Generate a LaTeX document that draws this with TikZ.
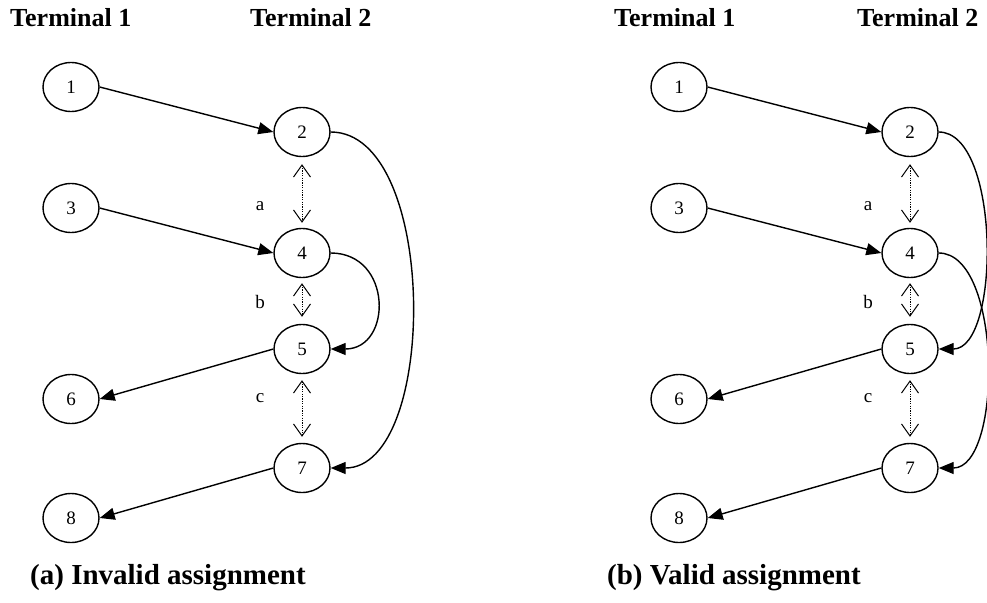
\documentclass[tikz,border=0pt]{standalone}
\usepackage{fontspec}
\setmainfont{Liberation Serif}
\usetikzlibrary{shapes.geometric,arrows.meta}
\begin{document}
\begin{tikzpicture}[x=1pt,y=-1pt,
  nd/.style={draw,ellipse,line width=1.4pt,minimum width=56pt,minimum height=49pt,inner sep=0pt,font=\fontsize{19}{21}\selectfont},
  arr/.style={line width=1.4pt,-{Triangle[length=15pt,width=12pt]}},
  dd/.style={line width=1pt,dash pattern=on 1.2pt off 1.2pt,{Straight Barb[length=12pt,width=17pt,line width=1pt]}-{Straight Barb[length=12pt,width=17pt,line width=1pt]}},
  lab/.style={font=\fontsize{19}{21}\selectfont},
  ttl/.style={anchor=west,inner sep=0pt,font=\fontsize{26}{28}\selectfont\bfseries},
  captext/.style={anchor=west,inner sep=0pt,font=\fontsize{29}{31}\selectfont\bfseries}]
\useasboundingbox (0,0) rectangle (987,602);
% left panel
\node[ttl] (t1a) at (10,18) {Terminal 1};
\node[ttl] (t2a) at (250,18) {Terminal 2};
\node[nd] (a1) at (71,87) {1};
\node[nd] (a3) at (71,208) {3};
\node[nd] (a6) at (71,399) {6};
\node[nd] (a8) at (71,518) {8};
\node[nd] (a2) at (302,132) {2};
\node[nd] (a4) at (302,253) {4};
\node[nd] (a5) at (302,349) {5};
\node[nd] (a7) at (302,468) {7};
\node[lab] (la) at (260,206) {a};
\node[lab] (lb) at (260,302) {b};
\node[lab] (lc) at (260,398) {c};
\draw[arr] (a1.east) -- (a2.west);
\draw[arr] (a3.east) -- (a4.west);
\draw[arr] (a5.west) -- (a6.east);
\draw[arr] (a7.west) -- (a8.east);
\draw[arr] (a2.east) .. controls +(108,0) and +(108,0) .. (a7.east);
\draw[arr] (a4.east) .. controls +(62,0) and +(62,0) .. (a5.east);
\draw[dd,shorten <=7pt,shorten >=5pt] (a2.south) -- (a4.north);
\draw[dd,shorten <=5pt,shorten >=7pt] (a4.south) -- (a5.north);
\draw[dd,shorten <=6pt,shorten >=6pt] (a5.south) -- (a7.north);
\node[captext] (ca) at (30,578) {(a) Invalid assignment};
% right panel
\node[ttl] (t1b) at (614,18) {Terminal 1};
\node[ttl] (t2b) at (857,18) {Terminal 2};
\node[nd] (b1) at (679,87) {1};
\node[nd] (b3) at (679,208) {3};
\node[nd] (b6) at (679,399) {6};
\node[nd] (b8) at (679,518) {8};
\node[nd] (b2) at (910,132) {2};
\node[nd] (b4) at (910,253) {4};
\node[nd] (b5) at (910,349) {5};
\node[nd] (b7) at (910,468) {7};
\node[lab] (lab2) at (868,206) {a};
\node[lab] (lbb2) at (868,302) {b};
\node[lab] (lcb2) at (868,398) {c};
\draw[arr] (b1.east) -- (b2.west);
\draw[arr] (b3.east) -- (b4.west);
\draw[arr] (b5.west) -- (b6.east);
\draw[arr] (b7.west) -- (b8.east);
\draw[arr] (b2.east) .. controls +(62,0) and +(62,0) .. (b5.east);
\draw[arr] (b4.east) .. controls +(64,0) and +(64,0) .. (b7.east);
\draw[dd,shorten <=7pt,shorten >=5pt] (b2.south) -- (b4.north);
\draw[dd,shorten <=5pt,shorten >=7pt] (b4.south) -- (b5.north);
\draw[dd,shorten <=6pt,shorten >=6pt] (b5.south) -- (b7.north);
\node[captext] (cb) at (607,578) {(b) Valid assignment};
\end{tikzpicture}
\end{document}
